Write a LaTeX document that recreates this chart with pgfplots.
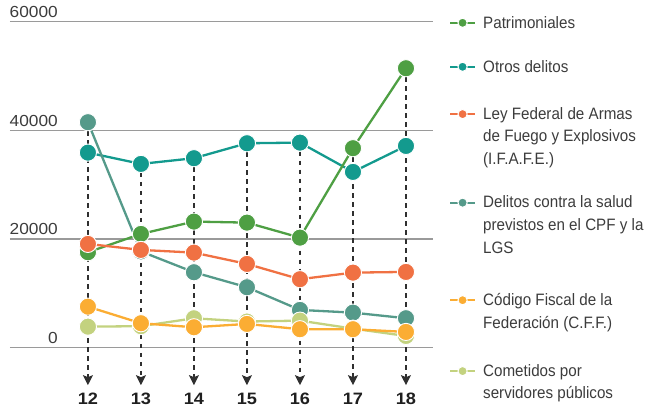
\documentclass[border=0pt]{standalone}
\usepackage{fontspec}
\setmainfont{Liberation Sans}
\newfontfamily\legfont{Liberation Sans}[FakeStretch=0.92]
\newfontfamily\numfont{Liberation Sans}[FakeStretch=1.08]
\newfontfamily\xfont{Liberation Sans}[FakeStretch=1.1]
\usepackage{pgfplots}
\pgfplotsset{compat=1.18}
\usepackage{pgfplotstable}
\usetikzlibrary{arrows.meta}

\definecolor{cPat}{HTML}{4E9F43}
\definecolor{cOtr}{HTML}{139A8E}
\definecolor{cLey}{HTML}{F07143}
\definecolor{cSal}{HTML}{559A8A}
\definecolor{cCff}{HTML}{FBAD33}
\definecolor{cCom}{HTML}{C3D27F}
\definecolor{cGrid}{HTML}{9A9A9A}
\definecolor{cTxt}{HTML}{3C3C3C}
\definecolor{cDash}{HTML}{2F2F2F}

\pgfplotstableread{
x pat otr ley sal cff com
12 17550 35880 19080 41470 7540 3860
13 20920 33800 17980 17700 4490 3950
14 23190 34850 17480 13870 3750 5400
15 23000 37600 15400 11110 4360 4800
16 20240 37720 12590 6940 3390 4970
17 36690 32330 13800 6440 3390 3500
18 51400 37110 13930 5410 2890 2150
}\data

\newcommand{\blank}[1]{\addlegendimage{empty legend}\addlegendentry[text height=#1, text depth=0pt]{}}
\pgfplotsset{
  ser/.style={color=#1, line width=2.3pt, mark=*, mark size=8.6pt,
    mark options={draw=white, fill=#1, line width=0.9pt}},
  legimg/.style={color=#1, line width=2.2pt,
    legend image code/.code={%
      \draw[mark=*, mark size=4.6pt, mark repeat=2, mark phase=2,
        mark options={draw=white, fill=#1, line width=1pt}]
        plot coordinates {(0pt,0pt) (12.5pt,0pt) (25pt,0pt)};}},
  drop/.style={cDash, line width=1.4pt, dash pattern=on 4.5pt off 4.5pt,
    -{Stealth[length=10pt,width=10pt,inset=2pt]}, forget plot},
}

\begin{document}
\begin{tikzpicture}
\begin{axis}[
  scale only axis, width=423pt, height=380.5pt,
  xmin=10.53, xmax=18.51, ymin=-10000, ymax=60000,
  axis line style={draw=none},
  major tick length=0pt,
  scaled y ticks=false,
  xtick={12,13,14,15,16,17,18},
  xticklabels={12,13,14,15,16,17,18},
  ytick={0,20000,40000,60000},
  yticklabels={0,20000,40000,60000},
  ymajorgrids,
  grid style={draw=cGrid, line width=1.3pt},
  yticklabel style={font=\numfont\fontsize{16}{16}\selectfont, text=cTxt,
    anchor=base east, inner sep=0pt, xshift=48pt, yshift=4pt},
  xticklabel style={font=\xfont\bfseries\fontsize{16.5}{16.5}\selectfont, text=black!88,
    anchor=base, inner sep=0pt, yshift=-2.5pt},
  clip=false,
  legend cell align=left,
  legend style={at={(1.0378,1.0263)}, anchor=north west, draw=none, fill=none,
    inner sep=0pt, outer sep=0pt, row sep=0pt, column sep=7pt,
    nodes={inner sep=0pt, outer sep=0pt, text=cTxt, text height=16.6pt, text depth=6pt,
      font=\legfont\fontsize{16.5}{22.6}\selectfont}},
]
\addlegendimage{legimg=cPat}\addlegendentry{Patrimoniales}
\blank{21.4pt}
\addlegendimage{legimg=cOtr}\addlegendentry{Otros delitos}
\blank{24.7pt}
\addlegendimage{legimg=cLey}\addlegendentry{Ley Federal de Armas}
\addlegendimage{empty legend}\addlegendentry{de Fuego y Explosivos}
\addlegendimage{empty legend}\addlegendentry{(I.F.A.F.E.)}
\blank{20.8pt}
\addlegendimage{legimg=cSal}\addlegendentry{Delitos contra la salud}
\addlegendimage{empty legend}\addlegendentry{previstos en el CPF y la}
\addlegendimage{empty legend}\addlegendentry{LGS}
\blank{29.7pt}
\addlegendimage{legimg=cCff}\addlegendentry{Código Fiscal de la}
\addlegendimage{empty legend}\addlegendentry{Federación (C.F.F.)}
\blank{25.7pt}
\addlegendimage{legimg=cCom}\addlegendentry{Cometidos por}
\addlegendimage{empty legend}\addlegendentry{servidores públicos}

\addplot[drop] coordinates {(12,41470) (12,-6900)};
\addplot[drop] coordinates {(13,33800) (13,-6900)};
\addplot[drop] coordinates {(14,34850) (14,-6900)};
\addplot[drop] coordinates {(15,37600) (15,-6900)};
\addplot[drop] coordinates {(16,37720) (16,-6900)};
\addplot[drop] coordinates {(17,36690) (17,-6900)};
\addplot[drop] coordinates {(18,51400) (18,-6900)};

\addplot[ser=cOtr, forget plot] table[x=x, y=otr] {\data};
\addplot[ser=cPat, forget plot] table[x=x, y=pat] {\data};
\addplot[ser=cSal, forget plot] table[x=x, y=sal] {\data};
\addplot[ser=cLey, forget plot] table[x=x, y=ley] {\data};
\addplot[ser=cCom, forget plot] table[x=x, y=com] {\data};
\addplot[ser=cCff, forget plot] table[x=x, y=cff] {\data};
\end{axis}
\pgfresetboundingbox
\useasboundingbox (-10pt,-7pt) rectangle (635pt,402pt);
\end{tikzpicture}
\end{document}
